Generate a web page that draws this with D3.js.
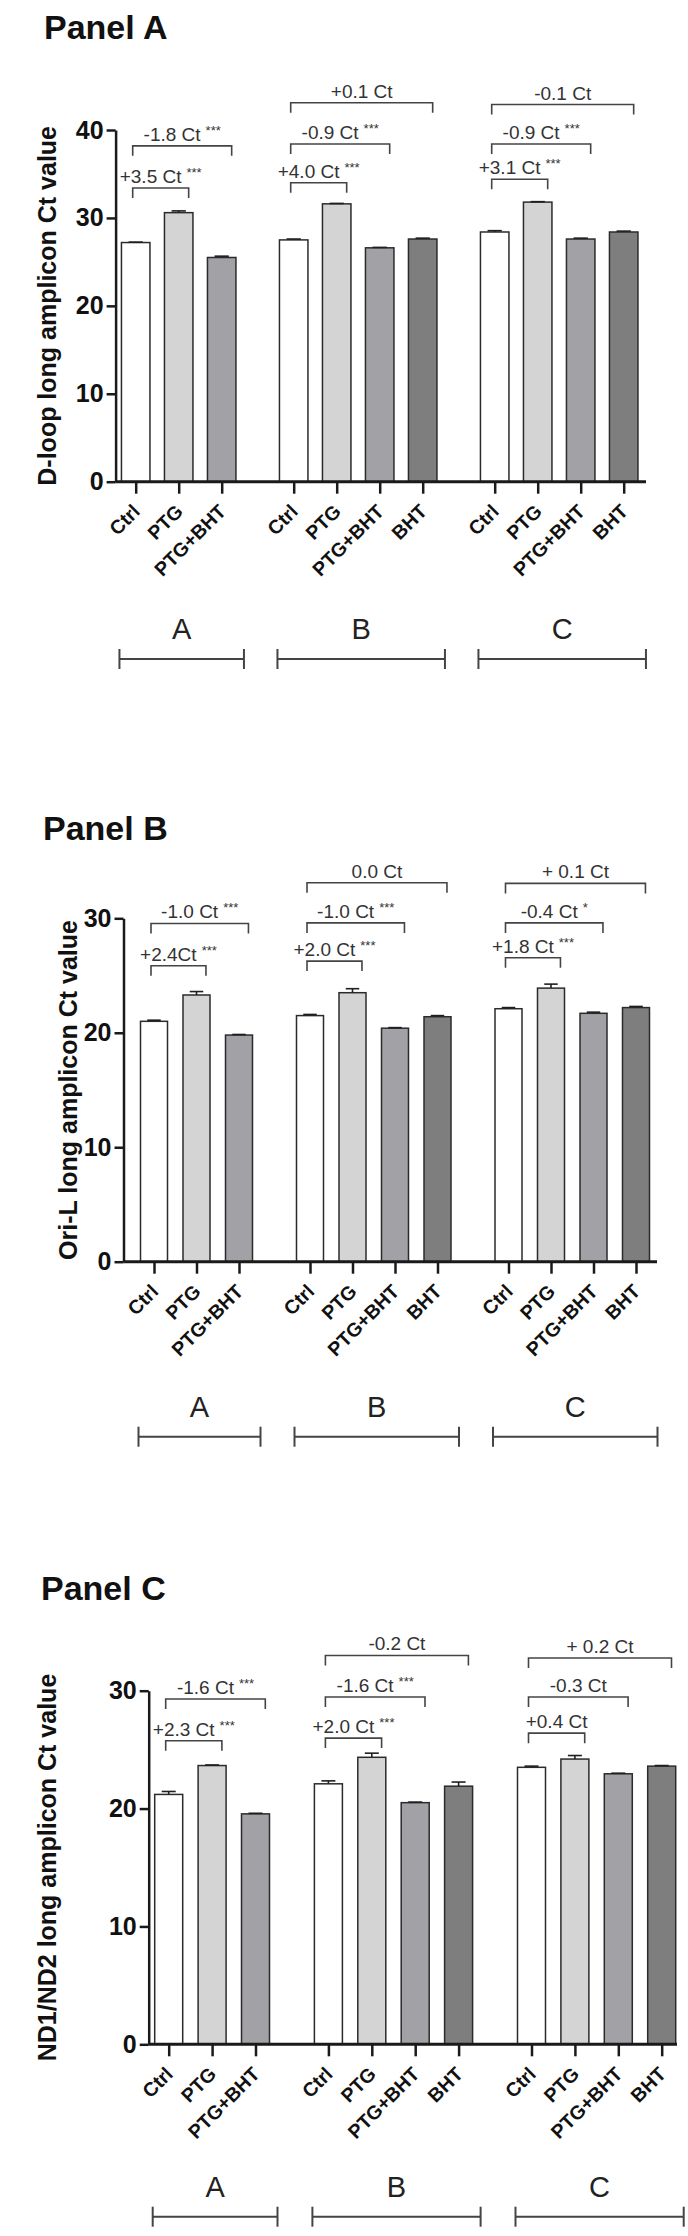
<!DOCTYPE html>
<meta charset="utf-8">
<style>

body {
  margin: 0;
  background: #fff;
}

svg {
  display: block;
  font-family: "Liberation Sans", Arial, Helvetica, sans-serif;
}

.axis path,
.axis line {
  stroke: #1a1a1a;
  stroke-width: 2.5;
}

.y-tick text {
  font-size: 25px;
  font-weight: bold;
  fill: #111;
}

.x-tick text {
  font-size: 19.5px;
  font-weight: bold;
  fill: #111;
}

.bar {
  stroke: #2b2b2b;
  stroke-width: 1.5;
}

.err {
  stroke: #1f1f1f;
  stroke-width: 1.6;
}

.bracket {
  fill: none;
  stroke: #444;
  stroke-width: 1.6;
}

.bracket-label {
  font-size: 19px;
  fill: #333;
}

.range line {
  stroke: #444;
  stroke-width: 2;
}

</style>
<svg width="688" height="2236"></svg>
<script src="https://cdn.jsdelivr.net/npm/d3@7"></script>
<script>

// categories
var groups = ["A", "B", "C"];
var conditions = [
  ["Ctrl", "PTG", "PTG+BHT"],
  ["Ctrl", "PTG", "PTG+BHT", "BHT"],
  ["Ctrl", "PTG", "PTG+BHT", "BHT"]
];

var panelTitles = ["Panel A", "Panel B", "Panel C"];
var yTitles = ["D-loop long amplicon Ct value", "Ori-L long amplicon Ct value", "ND1/ND2 long amplicon Ct value"];
var yTickValues = [[0, 10, 20, 30, 40], [0, 10, 20, 30], [0, 10, 20, 30]];

// Panel A - D-loop
var dloopMean = [[27.2, 30.6, 25.5], [27.5, 31.6, 26.6, 27.6], [28.4, 31.8, 27.6, 28.4]];
var dloopErr  = [[0.05, 0.2, 0.15], [0.1, 0.05, 0.05, 0.1], [0.15, 0.05, 0.1, 0.1]];

// Panel B - Ori-L
var oriMean = [[21.0, 23.3, 19.8], [21.5, 23.5, 20.4, 21.4], [22.1, 23.9, 21.7, 22.2]];
var oriErr  = [[0.1, 0.3, 0.05], [0.1, 0.35, 0.05, 0.1], [0.1, 0.35, 0.1, 0.1]];

// Panel C - ND1/ND2
var ndMean = [[21.2, 23.65, 19.55], [22.1, 24.35, 20.5, 21.9], [23.5, 24.2, 22.95, 23.6]];
var ndErr  = [[0.25, 0.05, 0.05], [0.25, 0.35, 0.05, 0.35], [0.1, 0.3, 0.05, 0.05]];

// comparison brackets: [group, from condition, to condition, level (Ct), label, stars]
var dloopBrackets = [
  [0, 0, 1, 33.4, "+3.5 Ct", "***"],
  [0, 0, 2, 38.2, "-1.8 Ct", "***"],
  [1, 0, 1, 34.0, "+4.0 Ct", "***"],
  [1, 0, 2, 38.4, "-0.9 Ct", "***"],
  [1, 0, 3, 43.1, "+0.1 Ct", ""],
  [2, 0, 1, 34.4, "+3.1 Ct", "***"],
  [2, 0, 2, 38.4, "-0.9 Ct", "***"],
  [2, 0, 3, 42.9, "-0.1 Ct", ""]
];
var oriBrackets = [
  [0, 0, 1, 25.85, "+2.4Ct", "***"],
  [0, 0, 2, 29.55, "-1.0 Ct", "***"],
  [1, 0, 1, 26.26, "+2.0 Ct", "***"],
  [1, 0, 2, 29.6, "-1.0 Ct", "***"],
  [1, 0, 3, 33.1, "0.0 Ct", ""],
  [2, 0, 1, 26.55, "+1.8 Ct", "***"],
  [2, 0, 2, 29.6, "-0.4 Ct", "*"],
  [2, 0, 3, 33.05, "+ 0.1 Ct", ""]
];
var ndBrackets = [
  [0, 0, 1, 25.75, "+2.3 Ct", "***"],
  [0, 0, 2, 29.3, "-1.6 Ct", "***"],
  [1, 0, 1, 25.98, "+2.0 Ct", "***"],
  [1, 0, 2, 29.46, "-1.6 Ct", "***"],
  [1, 0, 3, 32.99, "-0.2 Ct", ""],
  [2, 0, 1, 26.4, "+0.4 Ct", ""],
  [2, 0, 2, 29.46, "-0.3 Ct", ""],
  [2, 0, 3, 32.77, "+ 0.2 Ct", ""]
];

var fills = {"Ctrl": "#ffffff", "PTG": "#d4d4d4", "PTG+BHT": "#a1a1a6", "BHT": "#7e7e7e"};

// layout of each panel (pixels)
var layouts = [
  {axisX: 115.6, y0: 481.7,  yTop: 130,    c0: 135.7, step: 43,   bw: 28.5, gap: 29,   xEnd: 646, rangeY: 659,    titleX: 44, titleY: 39,   ytX: 56},
  {axisX: 123.5, y0: 1261.7, yTop: 918.3,  c0: 154,   step: 42.5, bw: 27,   gap: 28.5, xEnd: 657, rangeY: 1436.7, titleX: 43, titleY: 840,  ytX: 77},
  {axisX: 148.7, y0: 2044.3, yTop: 1690.7, c0: 168.7, step: 43.4, bw: 28,   gap: 29.5, xEnd: 677, rangeY: 2216.7, titleX: 41, titleY: 1600, ytX: 56}
];

var svg = d3.select("svg");
svg.append("rect").attr("width", 688).attr("height", 2236).attr("fill", "#fff");

drawPanel(0, dloopMean, dloopErr, dloopBrackets);
drawPanel(1, oriMean, oriErr, oriBrackets);
drawPanel(2, ndMean, ndErr, ndBrackets);

function drawPanel(i, means, errs, brackets) {
  var L = layouts[i];
  var ticks = yTickValues[i];
  var g = svg.append("g");

  var y = d3.scaleLinear()
      .domain([0, ticks[ticks.length - 1]])
      .range([L.y0, L.yTop]);

  // one unit = one bar step, groups separated by an extra gap
  var x = d3.scaleLinear()
      .domain([0, 1])
      .range([L.c0, L.c0 + L.step]);

  var bars = [], u = 0;
  groups.forEach(function(gname, gi) {
    conditions[gi].forEach(function(c, k) {
      bars.push({g: gi, k: k, c: c, u: u, v: means[gi][k], e: errs[gi][k]});
      u++;
    });
    u += L.gap / L.step;
  });
  var slot = function(gi, k) { return bars.filter(function(b) { return b.g === gi && b.k === k; })[0].u; };

  // titles
  g.append("text")
      .attr("x", L.titleX)
      .attr("y", L.titleY)
      .style("font-size", "34px")
      .style("font-weight", "bold")
      .style("fill", "#111")
      .text(panelTitles[i]);

  g.append("text")
      .attr("transform", "translate(" + L.ytX + "," + (L.y0 + L.yTop) / 2 + ") rotate(-90)")
      .style("text-anchor", "middle")
      .style("font-size", "25px")
      .style("font-weight", "bold")
      .style("fill", "#111")
      .text(yTitles[i]);

  // bars
  g.append("g").selectAll("rect")
    .data(bars)
    .enter().append("rect")
      .attr("class", "bar")
      .attr("x", function(d) { return x(d.u) - L.bw / 2; })
      .attr("y", function(d) { return y(d.v); })
      .attr("width", L.bw)
      .attr("height", function(d) { return y(0) - y(d.v); })
      .style("fill", function(d) { return fills[d.c]; });

  // error bars (upper half)
  var err = g.append("g").selectAll("g")
    .data(bars)
    .enter().append("g");
  err.append("line")
      .attr("class", "err")
      .attr("x1", function(d) { return x(d.u); })
      .attr("x2", function(d) { return x(d.u); })
      .attr("y1", function(d) { return y(d.v); })
      .attr("y2", function(d) { return y(d.v + d.e); });
  err.append("line")
      .attr("class", "err")
      .attr("x1", function(d) { return x(d.u) - L.bw / 4; })
      .attr("x2", function(d) { return x(d.u) + L.bw / 4; })
      .attr("y1", function(d) { return y(d.v + d.e); })
      .attr("y2", function(d) { return y(d.v + d.e); });

  // y axis
  g.append("g")
      .attr("class", "axis y-tick")
      .attr("transform", "translate(" + L.axisX + ",0)")
      .call(d3.axisLeft(y).tickValues(ticks).tickSize(9).tickSizeOuter(0).tickPadding(3))
      .call(function(a) { a.selectAll("text").style("font-family", null); });

  // x axis
  var xa = g.append("g")
      .attr("class", "axis x-tick")
      .attr("transform", "translate(0," + y(0) + ")")
      .call(d3.axisBottom(x)
        .tickValues(bars.map(function(b) { return b.u; }))
        .tickFormat(function(d, j) { return bars[j].c; })
        .tickSize(12)
        .tickSizeOuter(0));
  xa.select(".domain").remove();
  xa.selectAll("text")
      .attr("x", 0)
      .attr("y", 0)
      .attr("dy", 0)
      .attr("transform", "translate(5,31) rotate(-45)")
      .style("text-anchor", "end")
      .style("font-family", null);
  g.append("line")
      .attr("x1", L.axisX)
      .attr("x2", L.xEnd)
      .attr("y1", y(0))
      .attr("y2", y(0))
      .style("stroke", "#1a1a1a")
      .style("stroke-width", 3);

  // comparison brackets
  brackets.forEach(function(b) {
    var xl = x(slot(b[0], b[1])) - 3,
        xr = x(slot(b[0], b[2])) + L.bw * 0.35,
        yl = y(b[3]);
    g.append("path")
        .attr("class", "bracket")
        .attr("d", "M" + xl + "," + (yl + 10) + "V" + yl + "H" + xr + "V" + (yl + 10));
    var t = g.append("text")
        .attr("class", "bracket-label")
        .attr("x", (xl + xr) / 2)
        .attr("y", yl - 5)
        .style("text-anchor", "middle")
        .text(b[4]);
    if (b[5]) {
      t.append("tspan")
          .attr("dx", 5)
          .attr("dy", -6)
          .style("font-size", "13px")
          .text(b[5]);
    }
  });

  // group ranges A / B / C
  groups.forEach(function(gname, gi) {
    var gb = bars.filter(function(b) { return b.g === gi; });
    var x1 = x(gb[0].u) - L.bw / 2 - 2,
        x2 = x(gb[gb.length - 1].u) + L.bw / 2 + 8;
    var r = g.append("g").attr("class", "range");
    r.append("line").attr("x1", x1).attr("x2", x2).attr("y1", L.rangeY).attr("y2", L.rangeY);
    r.append("line").attr("x1", x1).attr("x2", x1).attr("y1", L.rangeY - 10).attr("y2", L.rangeY + 10);
    r.append("line").attr("x1", x2).attr("x2", x2).attr("y1", L.rangeY - 10).attr("y2", L.rangeY + 10);
    r.append("text")
        .attr("x", (x1 + x2) / 2)
        .attr("y", L.rangeY - 20)
        .style("text-anchor", "middle")
        .style("font-size", "29px")
        .style("fill", "#222")
        .text(gname);
  });
}

</script>
